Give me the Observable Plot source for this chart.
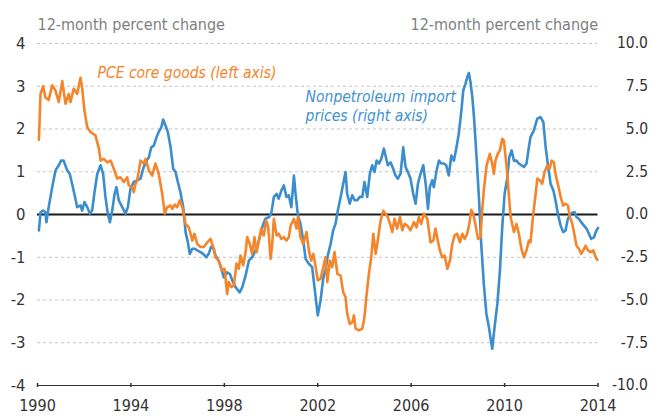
<!DOCTYPE html>
<html>
<head>
<meta charset="utf-8">
<script src="https://cdn.jsdelivr.net/npm/d3@7"></script>
<script src="https://cdn.jsdelivr.net/npm/@observablehq/plot@0.6"></script>
<style>
  html, body { margin: 0; padding: 0; background: #fff; }
  #chart { width: 650px; height: 417px; }
</style>
</head>
<body>
<div id="chart"></div>
<script>
// ---- Data ----
// PCE core goods, 12-month percent change (left axis)
const pceYears = [
  1990.06,1990.13,1990.24,1990.34,1990.48,1990.63,1990.77,1990.91,1991.06,1991.20,
  1991.34,1991.41,1991.55,1991.70,1991.84,1991.91,1992.01,1992.13,1992.27,1992.48,
  1992.63,1992.70,1992.84,1992.99,1993.13,1993.27,1993.41,1993.55,1993.70,1993.84,
  1993.91,1994.06,1994.12,1994.20,1994.27,1994.41,1994.55,1994.63,1994.77,1994.91,
  1995.05,1995.19,1995.34,1995.45,1995.55,1995.70,1995.77,1995.87,1995.98,1996.09,
  1996.20,1996.34,1996.48,1996.63,1996.72,1996.84,1996.98,1997.12,1997.27,1997.41,
  1997.52,1997.62,1997.76,1997.91,1998.01,1998.12,1998.19,1998.30,1998.41,1998.52,
  1998.62,1998.69,1998.81,1998.91,1998.98,1999.09,1999.19,1999.29,1999.38,1999.48,
  1999.58,1999.69,1999.79,1999.88,1999.98,2000.05,2000.12,2000.24,2000.33,2000.44,
  2000.55,2000.66,2000.76,2000.84,2000.98,2001.09,2001.15,2001.26,2001.38,2001.52,
  2001.62,2001.72,2001.81,2001.91,2002.00,2002.12,2002.24,2002.33,2002.41,2002.52,
  2002.62,2002.72,2002.84,2002.98,2003.09,2003.19,2003.26,2003.37,2003.48,2003.55,
  2003.62,2003.76,2003.91,2004.00,2004.08,2004.19,2004.29,2004.38,2004.48,2004.57,
  2004.69,2004.81,2004.90,2005.00,2005.12,2005.19,2005.29,2005.40,2005.52,2005.62,
  2005.72,2005.83,2005.97,2006.12,2006.23,2006.33,2006.43,2006.54,2006.69,2006.83,
  2006.95,2007.04,2007.14,2007.23,2007.33,2007.43,2007.55,2007.66,2007.76,2007.86,
  2007.97,2008.09,2008.19,2008.29,2008.40,2008.50,2008.57,2008.66,2008.76,2008.86,
  2008.97,2009.04,2009.11,2009.23,2009.37,2009.47,2009.54,2009.61,2009.71,2009.80,
  2009.90,2009.97,2010.09,2010.18,2010.26,2010.40,2010.51,2010.61,2010.72,2010.83,
  2010.94,2011.04,2011.11,2011.23,2011.33,2011.40,2011.51,2011.61,2011.71,2011.83,
  2011.93,2012.01,2012.11,2012.18,2012.28,2012.40,2012.51,2012.61,2012.71,2012.80,
  2012.90,2012.97,2013.08,2013.18,2013.28,2013.37,2013.47,2013.57,2013.68,2013.80,
  2013.90,2013.97
];
const pceValues = [
  1.75,2.82,3.00,2.74,2.68,3.02,2.90,2.63,3.12,2.59,
  2.82,2.63,2.94,2.82,3.20,2.98,2.43,2.04,1.93,1.85,
  1.54,1.26,1.30,1.22,1.26,1.07,0.84,0.87,0.76,0.87,
  0.68,0.64,0.52,0.72,0.80,1.26,1.19,1.30,1.03,0.91,
  1.19,0.95,0.48,0.02,0.17,0.21,0.13,0.23,0.17,0.33,
  0.17,-0.22,-0.30,-0.61,-0.45,-0.69,-0.76,-0.76,-0.65,-0.57,
  -0.76,-1.00,-1.08,-1.31,-1.27,-1.86,-1.58,-1.70,-1.66,-1.15,
  -1.27,-0.96,-1.19,-0.88,-0.53,-0.69,-0.92,-0.53,-0.88,-0.61,
  -0.33,-0.49,-0.14,-0.30,-1.04,-0.69,-0.10,-0.49,-0.45,-0.57,
  -0.53,-0.61,-0.53,-0.26,-0.10,-0.33,-0.06,-0.53,-0.69,-0.41,
  -0.84,-1.08,-0.92,-1.23,-1.54,-1.50,-1.23,-1.00,-1.58,-1.08,
  -1.23,-0.88,-1.39,-1.43,-1.82,-1.93,-2.32,-2.56,-2.52,-2.36,
  -2.67,-2.71,-2.67,-2.40,-1.93,-1.39,-1.00,-0.45,-0.92,-0.61,
  -0.14,0.09,0.02,-0.06,-0.26,-0.41,-0.10,-0.33,-0.06,-0.37,
  -0.22,-0.26,-0.37,-0.18,-0.30,-0.06,-0.22,0.02,-0.10,-0.65,
  -0.61,-0.33,-0.61,-0.84,-1.00,-0.96,-1.27,-1.08,-0.69,-0.49,
  -0.45,-0.65,-0.45,-0.57,-0.45,-0.18,0.11,0.02,-0.26,-0.57,
  -0.53,0.09,0.56,1.15,1.42,1.19,0.95,1.26,1.42,1.50,
  1.77,1.73,1.11,0.48,-0.06,-0.41,-0.22,-0.45,-0.80,-1.00,
  -0.84,-0.61,-0.65,0.02,0.48,0.84,0.80,0.72,0.99,1.15,
  1.07,1.26,1.22,0.95,0.72,0.41,0.21,0.25,0.21,-0.06,
  -0.22,-0.41,-0.73,-0.80,-0.92,-0.84,-0.73,-0.84,-0.88,-0.84,
  -1.00,-1.06
];

// Nonpetroleum import prices, 12-month percent change (right axis)
const importYears = [
  1990.06,1990.13,1990.24,1990.34,1990.38,1990.48,1990.63,1990.77,1990.91,1991.01,
  1991.12,1991.27,1991.38,1991.48,1991.58,1991.70,1991.84,1991.91,1992.01,1992.13,
  1992.24,1992.34,1992.44,1992.56,1992.70,1992.81,1992.91,1993.01,1993.10,1993.20,
  1993.30,1993.38,1993.48,1993.63,1993.77,1993.87,1993.98,1994.12,1994.27,1994.41,
  1994.55,1994.67,1994.77,1994.87,1994.98,1995.10,1995.19,1995.30,1995.38,1995.48,
  1995.58,1995.70,1995.81,1995.91,1996.01,1996.12,1996.24,1996.34,1996.44,1996.52,
  1996.63,1996.72,1996.84,1996.98,1997.09,1997.23,1997.33,1997.43,1997.55,1997.62,
  1997.76,1997.87,1997.98,1998.12,1998.24,1998.34,1998.48,1998.66,1998.77,1998.91,
  1999.05,1999.19,1999.34,1999.48,1999.62,1999.76,1999.91,2000.01,2000.12,2000.24,
  2000.33,2000.44,2000.55,2000.66,2000.76,2000.87,2000.98,2001.05,2001.15,2001.26,
  2001.38,2001.48,2001.62,2001.76,2001.86,2002.00,2002.12,2002.24,2002.33,2002.43,
  2002.55,2002.66,2002.76,2002.86,2002.98,2003.09,2003.19,2003.26,2003.37,2003.48,
  2003.58,2003.69,2003.80,2003.91,2004.00,2004.12,2004.23,2004.33,2004.43,2004.52,
  2004.62,2004.72,2004.83,2004.90,2005.00,2005.12,2005.23,2005.33,2005.43,2005.55,
  2005.66,2005.76,2005.86,2005.97,2006.09,2006.19,2006.29,2006.40,2006.52,2006.62,
  2006.72,2006.80,2006.90,2006.97,2007.09,2007.19,2007.29,2007.40,2007.50,2007.61,
  2007.72,2007.83,2007.94,2008.04,2008.15,2008.23,2008.33,2008.40,2008.47,2008.54,
  2008.62,2008.69,2008.80,2008.90,2009.00,2009.11,2009.22,2009.33,2009.47,2009.57,
  2009.69,2009.80,2009.90,2010.00,2010.12,2010.20,2010.30,2010.40,2010.51,2010.61,
  2010.72,2010.83,2010.94,2011.04,2011.11,2011.25,2011.40,2011.54,2011.66,2011.76,
  2011.85,2011.97,2012.09,2012.18,2012.28,2012.40,2012.51,2012.61,2012.71,2012.83,
  2012.94,2013.00,2013.08,2013.18,2013.28,2013.40,2013.51,2013.61,2013.71,2013.83,
  2013.90,2014.00
];
const importValues = [
  -0.93,0.13,0.23,0.13,-0.45,0.43,1.60,2.58,2.88,3.15,
  3.15,2.58,2.38,1.80,1.20,0.43,0.53,0.23,0.73,0.43,
  0.05,0.23,1.30,2.38,2.88,2.38,1.03,0.05,-0.45,0.23,
  1.20,1.60,0.83,0.43,0.05,0.43,1.50,1.90,2.00,2.10,
  2.78,3.15,3.35,3.93,4.03,4.53,4.83,5.10,5.55,5.20,
  4.83,3.93,2.68,2.48,1.90,1.30,0.43,-1.03,-1.63,-2.30,
  -2.00,-2.00,-2.10,-2.20,-2.30,-2.50,-2.30,-1.90,-2.00,-2.40,
  -2.70,-3.18,-3.68,-3.38,-3.48,-3.85,-4.25,-4.55,-4.25,-3.58,
  -2.70,-2.50,-2.10,-1.53,-0.75,-0.25,-0.15,0.05,1.03,1.20,
  0.93,1.40,1.70,1.03,1.13,0.43,2.28,1.20,-0.05,-0.55,
  -1.53,-2.60,-2.88,-3.08,-4.25,-5.90,-5.03,-3.68,-3.28,-2.40,
  -1.73,-0.93,-0.55,0.23,1.03,1.80,2.48,1.20,0.63,1.13,
  0.83,0.83,1.03,1.03,1.90,1.03,2.38,2.88,2.48,3.15,
  2.98,3.25,3.85,3.45,2.88,3.05,2.68,2.28,2.10,2.40,
  3.93,2.78,2.48,2.10,1.20,0.63,1.80,2.38,2.88,1.80,
  0.33,1.60,2.00,1.60,2.58,3.15,2.98,2.98,2.88,2.28,
  3.45,3.15,3.93,4.73,6.08,7.25,7.65,8.03,8.28,7.75,
  6.85,5.70,3.35,1.03,-1.73,-4.05,-5.80,-6.60,-7.85,-6.60,
  -5.23,-3.28,-0.75,1.20,2.18,3.35,3.75,3.15,3.15,2.98,
  2.88,2.78,2.98,3.93,4.53,4.90,5.60,5.70,5.40,3.93,
  2.98,1.80,1.40,0.83,0.05,-0.65,-1.03,-0.93,-0.25,0.05,
  0.13,0.13,-0.15,-0.25,-0.45,-0.65,-0.83,-1.13,-1.43,-1.33,
  -1.03,-0.78
];

// Axis ticks and labels
const xTicks = [1990, 1994, 1998, 2002, 2006, 2010, 2014];
const leftTicks = [-4, -3, -2, -1, 0, 1, 2, 3, 4];
const rightTickLabels = ["-10.0", "-7.5", "-5.0", "-2.5", "0.0", "2.5", "5.0", "7.5", "10.0"];
const axisTitle = "12-month percent change";
const seriesLabels = ["PCE core goods (left axis)", "Nonpetroleum import\nprices (right axis)"];
const rightToLeft = 2.5; // right-axis units per left-axis unit

// ---- Build tables ----
const pce = pceYears.map((t, i) => ({t, v: pceValues[i]}));
const imports = importYears.map((t, i) => ({t, v: importValues[i]}));
const labelData = [
  {t: 1992.57, v: 3.34, text: seriesLabels[0], color: "#F5852A"},
  {t: 2001.48, v: 2.56, text: seriesLabels[1], color: "#4291D1"}
];

const FONT = "'Liberation Sans Narrow', 'DejaVu Sans Condensed', 'Arial Narrow', sans-serif";
const ORANGE = "#F5852A";
const BLUE = "#3B8DCD";

const chart = Plot.plot({
  width: 650,
  height: 417,
  marginLeft: 37,
  marginRight: 52.5,
  marginTop: 43,
  marginBottom: 32,
  style: {fontFamily: FONT, background: "#fff", overflow: "visible"},
  x: {domain: [1990, 2014], label: null},
  y: {domain: [-4, 4], label: null},
  marks: [
    // dotted grid
    Plot.ruleY(leftTicks.filter(d => d !== 0 && d !== -4), {stroke: "#c4c4c4", strokeDasharray: "3,3", strokeWidth: 1}),
    // left axis
    Plot.axisY({ticks: leftTicks, tickSize: 0, tickPadding: 12, tickFormat: d => String(d), fontSize: 16.5, fill: "#333", label: null}),
    // right axis (right units = left units * 2.5)
    Plot.axisY({anchor: "right", ticks: leftTicks, tickSize: 0, tickPadding: 50, textAnchor: "end",
      tickFormat: d => rightTickLabels[leftTicks.indexOf(d)], fontSize: 15.5, fill: "#333", label: null}),
    // bottom axis
    Plot.axisX({ticks: xTicks, tickSize: 0, tickPadding: 14, tickFormat: d => String(d), fontSize: 16, fill: "#333", label: null}),
    Plot.ruleY([-4], {stroke: "#333", strokeWidth: 1}),
    Plot.ruleX(xTicks, {y1: -4, y2: -4, insetTop: -2, insetBottom: -2, stroke: "#333", strokeWidth: 1.5}),
    // zero line
    Plot.ruleY([0], {stroke: "#1a1a1a", strokeWidth: 2}),
    // series
    Plot.line(imports, {x: "t", y: d => d.v / rightToLeft, stroke: BLUE, strokeWidth: 2.6, curve: "linear"}),
    Plot.line(pce, {x: "t", y: "v", stroke: ORANGE, strokeWidth: 2.6, curve: "linear"}),
    // series labels
    Plot.text(labelData, {x: "t", y: "v", text: "text", fill: "color", textAnchor: "start", lineAnchor: "middle",
      fontSize: 15.5, fontStyle: "italic", lineHeight: 1.22}),
    // axis titles
    Plot.text([axisTitle], {frameAnchor: "top-left", textAnchor: "start", lineAnchor: "middle", dy: -19, fontSize: 16, fill: "#808080"}),
    Plot.text([axisTitle], {frameAnchor: "top-right", textAnchor: "end", lineAnchor: "middle", dy: -19, fontSize: 16, fill: "#808080"})
  ]
});
document.getElementById("chart").appendChild(chart);
</script>
</body>
</html>
